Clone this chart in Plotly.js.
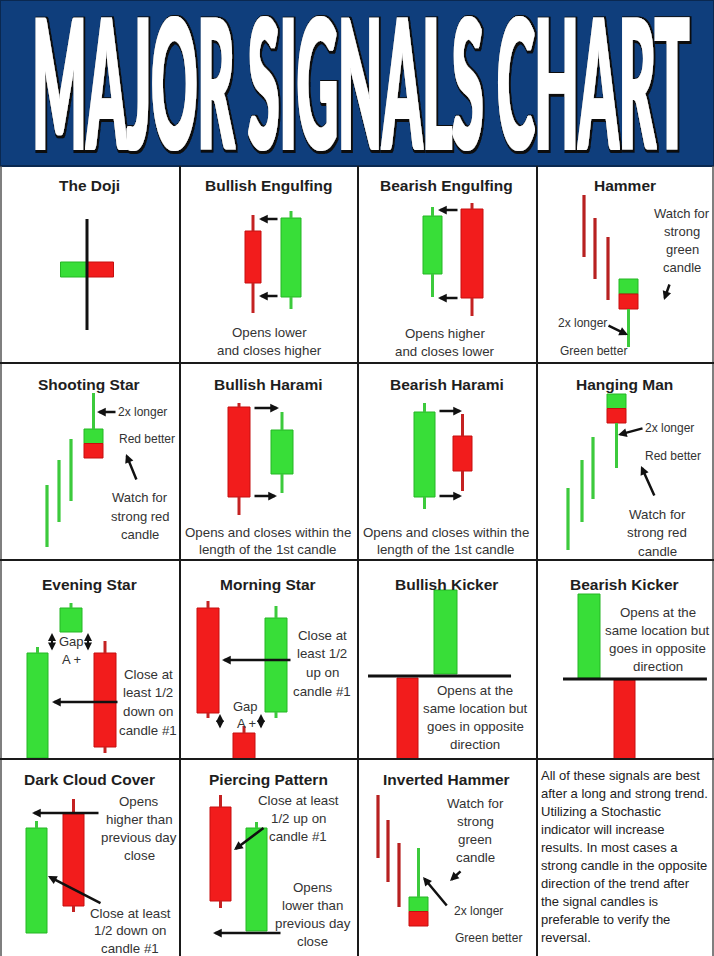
<!DOCTYPE html>
<html>
<head>
<meta charset="utf-8">
<script src="https://cdn.plot.ly/plotly-3.0.1.min.js"></script>
<style>html,body{margin:0;padding:0;background:#fff;}</style>
</head>
<body>
<div id="chart" style="width:714px;height:956px;"></div>
<script>
// one name per cell, row by row
var patternNames = ['The Doji', 'Bullish Engulfing', 'Bearish Engulfing', 'Hammer',
  'Shooting Star', 'Bullish Harami', 'Bearish Harami', 'Hanging Man',
  'Evening Star', 'Morning Star', 'Bullish Kicker', 'Bearish Kicker',
  'Dark Cloud Cover', 'Piercing Pattern', 'Inverted Hammer', ''];

// candles: cell index, time position, open/high/low/close (price = px above cell floor)
var candleCell  = [0, 1, 1, 2, 2, 3, 4, 5, 5, 6, 6, 7, 8, 8, 8, 9, 9, 9, 10, 10, 11, 11, 12, 12, 13, 13, 14];
var candleX     = [87, 73, 111, 74.5, 114, 91.5, 93.5, 59, 102, 66.5, 104.5, 79.5, 37.5, 71, 105, 28, 64, 96, 87.5, 49.5, 52, 87.5, 36.5, 73.5, 40.5, 76.5, 60.5];
var candleOpen  = [101, 132, 66, 89, 154, 84, 131, 153, 86, 63, 124, 166, 1, 127, 106, 151, 26, 47, 85, 81, 81, 79, 23, 142, 149, 25, 59];
var candleHigh  = [144, 148, 152, 156, 160, 84, 167, 157, 148, 157, 146, 166, 112, 156, 118, 158, 33, 153, 169, 81, 165, 79, 135, 157, 161, 134, 108];
var candleLow   = [33, 50, 54, 66, 47, 16, 102, 45, 67, 51, 69, 92, 1, 127, 6, 41, 0, 41, 85, 0, 81, 0, 23, 44, 48, 25, 30];
var candleClose = [86, 80, 145, 147, 65, 54, 102, 63, 130, 148, 89, 137, 106, 151, 12, 46, 0, 141, 169, 0, 165, 0, 128, 50, 55, 128, 30];
// doji = open equals close, split = colour not decided (green over red)
var candleKind  = ['doji', 'n', 'n', 'n', 'n', 'split', 'split', 'n', 'n', 'n', 'n', 'split', 'n', 'n', 'n', 'n', 'n', 'n', 'n', 'n', 'n', 'n', 'n', 'n', 'n', 'n', 'split'];

// prior trend candles (range only)
var trendCell = [3, 3, 3, 4, 4, 4, 7, 7, 7, 14, 14, 14];
var trendX    = [47, 58, 71, 47, 59, 71, 31, 45, 56, 20, 30, 41];
var trendHigh = [168, 145, 126, 75, 100, 121, 72, 100, 123, 161, 136, 113];
var trendLow  = [106, 84, 63, 13, 38, 59, 10, 38, 61, 98, 74, 49];

// kicker opening level
var kickerCell  = [10, 11];
var kickerLevel = [83, 80];

var paraLines = ['All of these signals are best', 'after a long and strong trend.', 'Utilizing a Stochastic',
  'indicator will increase', 'results. In most cases a', 'strong candle in the opposite',
  'direction of the trend after', 'the signal candles is', 'preferable to verify the', 'reversal.'];

// ---- styles / layout ----
var bodyWidth = [53, 16, 20, 19, 22, 19, 19, 22, 22, 21, 19, 19, 21, 22, 22, 22, 22, 22, 23, 21, 22, 21, 21, 21, 21, 21, 19];
var CELL_X = [0, 180, 358, 537, 714];
var CELL_Y = [166, 363, 560, 759, 956];
var PW = 714, PH = 956;
var GREEN = '#38de38', GREEN_EDGE = '#24b624', RED = '#f21c1c', RED_EDGE = '#c60e0e';
var GREEN_WICK = '#3cca3c', RED_WICK = '#c42222';
var FONT = 'Liberation Sans, Arial, sans-serif';
var titleY = [178, 175, 175, 177];

// notes: cell, x, first-line y, line step, size, lines
var notes = [
  [1, 89, 31, 18, 13.3, ['Opens lower', 'and closes higher']],
  [2, 87, 30, 18, 13.3, ['Opens higher', 'and closes lower']],
  [3, 145, 150, 18.3, 13, ['Watch for', 'strong', 'green', 'candle']],
  [3, 45, 40, 18, 12, ['2x longer']],
  [3, 56, 12, 18, 12, ['Green better']],
  [4, 142, 148, 18, 12, ['2x longer']],
  [4, 147, 121, 18, 12, ['Red better']],
  [4, 140, 62, 18, 13, ['Watch for', 'strong red', 'candle']],
  [5, 88, 28, 17, 13.3, ['Opens and closes within the', 'length of the 1st candle']],
  [6, 88, 28, 17, 13.3, ['Opens and closes within the', 'length of the 1st candle']],
  [7, 132, 132, 18, 12, ['2x longer']],
  [7, 136, 104, 18, 12, ['Red better']],
  [7, 120, 46, 18.5, 13.3, ['Watch for', 'strong red', 'candle']],
  [8, 71, 118, 18, 13, ['Gap']],
  [8, 71, 100, 18, 13, ['A +']],
  [8, 148, 85, 18.7, 13.3, ['Close at', 'least 1/2', 'down on', 'candle #1']],
  [9, 65, 53, 18, 13, ['Gap']],
  [9, 66, 36, 18, 13, ['A +']],
  [9, 142, 124, 18.7, 13.3, ['Close at', 'least 1/2', 'up on', 'candle #1']],
  [10, 117, 69, 18, 13.3, ['Opens at the', 'same location but', 'goes in opposite', 'direction']],
  [11, 120.5, 147, 18.3, 13.3, ['Opens at the', 'same location but', 'goes in opposite', 'direction']],
  [12, 139, 155, 18, 13.3, ['Opens', 'higher than', 'previous day', 'close']],
  [12, 130, 43, 17.5, 13.3, ['Close at least', '1/2 down on', 'candle #1']],
  [13, 118, 156, 18, 13.3, ['Close at least', '1/2 up on', 'candle #1']],
  [13, 132.5, 69, 18, 13.3, ['Opens', 'lower than', 'previous day', 'close']],
  [14, 117, 153, 18.3, 13.3, ['Watch for', 'strong', 'green', 'candle']],
  [14, 120, 45, 18, 12, ['2x longer']],
  [14, 130, 18, 18, 12, ['Green better']]
];

// arrows: cell, tail x, tail y, head x, head y, double headed
var arrows = [
  [1, 99, 144, 79, 144, 0], [1, 99, 67, 79, 67, 0],
  [2, 101, 153, 80, 153, 0], [2, 101, 65, 80, 65, 0],
  [3, 133, 80, 127, 63, 0], [3, 70, 38, 91, 28, 0],
  [4, 117, 148, 97, 148, 0], [4, 137, 79, 126, 106, 0],
  [5, 73, 152, 99, 152, 0], [5, 73, 64, 97, 64, 0],
  [6, 80, 149, 104, 149, 0], [6, 80, 64, 104, 64, 0],
  [7, 107, 132, 81, 125, 0], [7, 118, 63, 104, 94, 0],
  [8, 52, 107, 52, 126, 1], [8, 88, 107, 88, 126, 1], [8, 119, 57, 52, 57, 0],
  [9, 40, 29, 40, 45, 1], [9, 81, 29, 81, 45, 1], [9, 112, 99, 42, 99, 0],
  [12, 100, 143, 32, 143, 0], [12, 102, 52, 48, 80, 0],
  [13, 102, 23, 33, 23, 0], [13, 85, 129, 54, 106, 0],
  [14, 104, 86, 92, 75, 0], [14, 90, 49, 65, 79, 0]
];

var kickerSpan = {10: [0.056, 0.855], 11: [0.147, 0.96]};

function sfx(i) { return i === 0 ? '' : String(i + 1); }

function makeChart() {
  var traces = [];
  var layout = {
    width: PW, height: PH,
    margin: {l: 0, r: 0, t: 0, b: 0},
    paper_bgcolor: '#fff', plot_bgcolor: 'rgba(0,0,0,0)',
    showlegend: false, hovermode: false, barmode: 'overlay',
    title: {text: 'MAJOR SIGNALS CHART', x: 0.5, xanchor: 'center', y: 0.92, yanchor: 'middle',
      font: {family: 'Lato, Inter, Liberation Sans, sans-serif', size: 60, color: '#ffffff', weight: 900}},
    shapes: [], annotations: []
  };

  for (var i = 0; i < 16; i++) {
    var col = i % 4, row = Math.floor(i / 4), s = sfx(i);
    layout['xaxis' + s] = {domain: [CELL_X[col] / PW, CELL_X[col + 1] / PW], range: [0, CELL_X[col + 1] - CELL_X[col]],
      visible: false, fixedrange: true, anchor: 'y' + s};
    layout['yaxis' + s] = {domain: [1 - CELL_Y[row + 1] / PH, 1 - CELL_Y[row] / PH], range: [0, CELL_Y[row + 1] - CELL_Y[row]],
      visible: false, fixedrange: true, anchor: 'x' + s};
    if (patternNames[i]) {
      layout.annotations.push({xref: 'x' + s, yref: 'y' + s, x: (CELL_X[col + 1] - CELL_X[col]) / 2 - 1, y: titleY[row],
        text: patternNames[i], showarrow: false, font: {family: FONT, size: 15.5, color: '#1e1e1e', weight: 'bold'}});
    }
  }

  for (var cell = 0; cell < 16; cell++) {
    var s = sfx(cell);
    var bx = [], bb = [], bh = [], bw = [], bc = [], bl = [];
    var gx = [], gy = [], rx = [], ry = [], kx = [], ky = [];
    for (var k = 0; k < candleCell.length; k++) {
      if (candleCell[k] !== cell) continue;
      var cx = candleX[k], o = candleOpen[k], hi = candleHigh[k], lo = candleLow[k], cl = candleClose[k], w = bodyWidth[k];
      var bTop = Math.max(o, cl), bBot = Math.min(o, cl);
      var wx = gx, wy = gy;
      if (candleKind[k] === 'doji') {
        bx.push(cx - w / 4, cx + w / 4); bb.push(bBot, bBot); bh.push(bTop - bBot, bTop - bBot);
        bw.push(w / 2, w / 2); bc.push(GREEN, RED); bl.push(GREEN_EDGE, RED_EDGE);
        kx.push(cx, cx, null); ky.push(lo, hi, null);
        continue;
      } else if (candleKind[k] === 'split') {
        var mid = (bTop + bBot) / 2;
        bx.push(cx, cx); bb.push(mid, bBot); bh.push(bTop - mid, mid - bBot);
        bw.push(w, w); bc.push(GREEN, RED); bl.push(GREEN_EDGE, RED_EDGE);
      } else {
        var up = cl > o;
        bx.push(cx); bb.push(bBot); bh.push(bTop - bBot); bw.push(w);
        bc.push(up ? GREEN : RED); bl.push(up ? GREEN_EDGE : RED_EDGE);
        if (!up) { wx = rx; wy = ry; }
      }
      if (hi > bTop) { wx.push(cx, cx, null); wy.push(bTop, hi, null); }
      if (lo < bBot) { wx.push(cx, cx, null); wy.push(lo, bBot, null); }
    }
    // trend lines: colour follows the direction of the trend in that cell
    var tIdx = [];
    for (var t = 0; t < trendCell.length; t++) if (trendCell[t] === cell) tIdx.push(t);
    if (tIdx.length) {
      var down = trendHigh[tIdx[0]] > trendHigh[tIdx[tIdx.length - 1]];
      var tx = [], ty = [];
      tIdx.forEach(function (j) { tx.push(trendX[j], trendX[j], null); ty.push(trendLow[j], trendHigh[j], null); });
      traces.push({type: 'scatter', mode: 'lines', x: tx, y: ty, xaxis: 'x' + s, yaxis: 'y' + s,
        line: {color: down ? '#b82020' : GREEN_WICK, width: 3.2}});
    }
    if (bx.length) {
      traces.push({type: 'bar', x: bx, y: bh, base: bb, width: bw, xaxis: 'x' + s, yaxis: 'y' + s,
        marker: {color: bc, line: {color: bl, width: 1}}});
    }
    if (gx.length) traces.push({type: 'scatter', mode: 'lines', x: gx, y: gy, xaxis: 'x' + s, yaxis: 'y' + s, line: {color: GREEN_WICK, width: 3}});
    if (rx.length) traces.push({type: 'scatter', mode: 'lines', x: rx, y: ry, xaxis: 'x' + s, yaxis: 'y' + s, line: {color: RED_WICK, width: 3}});
    if (kx.length) traces.push({type: 'scatter', mode: 'lines', x: kx, y: ky, xaxis: 'x' + s, yaxis: 'y' + s, line: {color: '#111', width: 3}});
  }
  // keep the text-only cell as a subplot
  traces.push({type: 'scatter', mode: 'markers', x: [], y: [], xaxis: 'x16', yaxis: 'y16'});

  kickerCell.forEach(function (cIdx, j) {
    var s = sfx(cIdx);
    layout.shapes.push({type: 'line', xref: 'x' + s + ' domain', yref: 'y' + s, x0: kickerSpan[cIdx][0], x1: kickerSpan[cIdx][1],
      y0: kickerLevel[j], y1: kickerLevel[j], line: {color: '#111', width: 3}});
  });

  notes.forEach(function (n) {
    var s = sfx(n[0]);
    n[5].forEach(function (txt, j) {
      layout.annotations.push({xref: 'x' + s, yref: 'y' + s, x: n[1], y: n[2] - j * n[3], text: txt, showarrow: false,
        xanchor: 'center', yanchor: 'middle', font: {family: FONT, size: n[4], color: '#333'}});
    });
  });
  paraLines.forEach(function (txt, j) {
    layout.annotations.push({xref: 'x16', yref: 'y16', x: 2, y: 181 - j * 18.1, text: txt, showarrow: false,
      xanchor: 'left', yanchor: 'middle', font: {family: FONT, size: 13, color: '#222'}});
  });

  arrows.forEach(function (a) {
    var s = sfx(a[0]);
    layout.annotations.push({xref: 'x' + s, yref: 'y' + s, axref: 'x' + s, ayref: 'y' + s,
      x: a[3], y: a[4], ax: a[1], ay: a[2], text: '', showarrow: true,
      arrowhead: 2, arrowsize: a[5] ? 0.8 : 0.7, arrowwidth: a[5] ? 2 : 2.5, arrowcolor: '#111',
      arrowside: a[5] ? 'end+start' : 'end', standoff: 0, startstandoff: 0});
  });

  // header band and grid
  layout.shapes.push({type: 'rect', xref: 'paper', yref: 'paper', x0: 0, x1: 1, y0: 1 - CELL_Y[0] / PH, y1: 1,
    fillcolor: '#0f3e7c', line: {color: '#0a2850', width: 2}, layer: 'below'});
  [CELL_X[1], CELL_X[2], CELL_X[3]].forEach(function (xv) {
    layout.shapes.push({type: 'line', xref: 'paper', yref: 'paper', x0: xv / PW, x1: xv / PW, y0: 0, y1: 1 - CELL_Y[0] / PH,
      line: {color: '#1a1a1a', width: 2}});
  });
  [1, 713].forEach(function (xv) {
    layout.shapes.push({type: 'line', xref: 'paper', yref: 'paper', x0: xv / PW, x1: xv / PW, y0: 0, y1: 1 - CELL_Y[0] / PH,
      line: {color: '#555', width: 1.5}});
  });
  [CELL_Y[1], CELL_Y[2], CELL_Y[3]].forEach(function (yv) {
    layout.shapes.push({type: 'line', xref: 'paper', yref: 'paper', x0: 0, x1: 1, y0: 1 - yv / PH, y1: 1 - yv / PH,
      line: {color: '#1a1a1a', width: 2}});
  });

  Plotly.newPlot('chart', traces, layout, {staticPlot: true, displayModeBar: false}).then(function (gd) {
    // stretch the header text into the tall condensed poster look
    var el = gd.querySelector('.gtitle');
    if (!el) return;
    var b = el.getBBox();
    var ctx = document.createElement('canvas').getContext('2d');
    ctx.font = '900 60px Lato, Inter, "Liberation Sans", sans-serif';
    var m = ctx.measureText('MAJOR SIGNALS CHART');
    var base = b.y + m.fontBoundingBoxAscent;
    var inkL = b.x - m.actualBoundingBoxLeft, inkR = b.x + m.actualBoundingBoxRight;
    var sx = (689 - 36) / (inkR - inkL);
    var sy = (149 - 18) / m.actualBoundingBoxAscent;
    el.setAttribute('transform', 'translate(' + (36 - sx * inkL) + ',' + (149 - sy * base) + ') scale(' + sx + ',' + sy + ')');
    // filter: fatter white letters over a dark offset outline (radii in the unscaled text space)
    var NS = 'http://www.w3.org/2000/svg';
    var svg = el.ownerSVGElement;
    var defs = document.createElementNS(NS, 'defs');
    var f = document.createElementNS(NS, 'filter');
    f.setAttribute('id', 'fatTitle');
    f.setAttribute('x', '-5%'); f.setAttribute('y', '-10%');
    f.setAttribute('width', '110%'); f.setAttribute('height', '120%');
    f.innerHTML =
      '<feMorphology in="SourceAlpha" operator="dilate" radius="1.4 0.45" result="fatA"/>' +
      '<feFlood flood-color="#ffffff" result="white"/>' +
      '<feComposite in="white" in2="fatA" operator="in" result="fat"/>' +
      '<feMorphology in="SourceAlpha" operator="dilate" radius="2.6 0.85" result="outA"/>' +
      '<feOffset in="outA" dx="1.2" dy="0.45" result="outOff"/>' +
      '<feFlood flood-color="#0b0b0b" result="dark"/>' +
      '<feComposite in="dark" in2="outOff" operator="in" result="shadow"/>' +
      '<feMerge><feMergeNode in="shadow"/><feMergeNode in="fat"/></feMerge>';
    defs.appendChild(f);
    svg.insertBefore(defs, svg.firstChild);
    el.setAttribute('filter', 'url(#fatTitle)');
  });
}

makeChart();
</script>
</body>
</html>
